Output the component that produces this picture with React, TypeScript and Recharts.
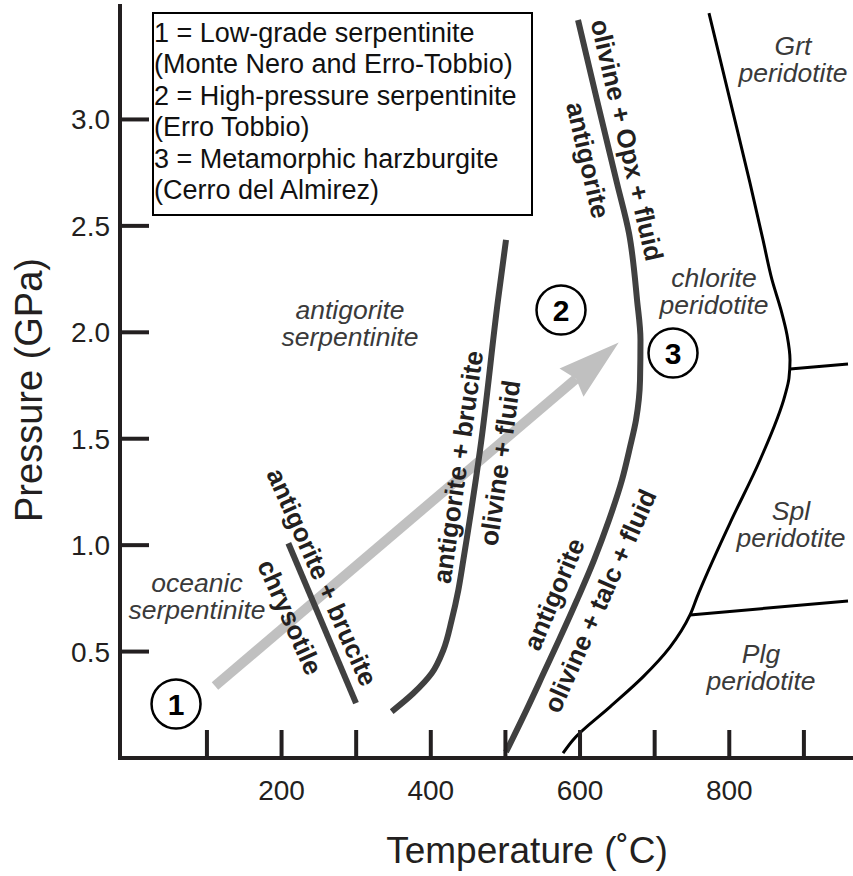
import React from 'react';
import { ComposedChart, Line, Scatter, XAxis, YAxis, Legend } from 'recharts';

const FONT = '"Liberation Sans", Arial, Helvetica, sans-serif';
const INK = '#231f20';
const CURVE = '#404040';
const FIELD_TEXT = '#3a3a3a';
const PATH_GREY = '#c0c0c0';

// Axis ranges and ticks: temperature in °C, pressure in GPa
const temperatureDomain: [number, number] = [-16.5, 965.8];
const pressureDomain: [number, number] = [0, 3.533];
const temperatureTicks = [100, 200, 300, 400, 500, 600, 700, 800, 900];
const pressureTicks = [0.5, 1.0, 1.5, 2.0, 2.5, 3.0];

// antigorite + brucite = chrysotile
const chrysotileReaction = [
  { T: 209.1, P: 1.009 },
  { T: 299.8, P: 0.258 },
];

// antigorite + brucite = olivine + fluid
const bruciteOut = [
  { T: 347.6, P: 0.218 },
  { T: 376.6, P: 0.304 },
  { T: 401.2, P: 0.398 },
  { T: 416.8, P: 0.507 },
  { T: 428.0, P: 0.648 },
  { T: 436.9, P: 0.789 },
  { T: 443.6, P: 0.93 },
  { T: 466.0, P: 1.447 },
  { T: 490.1, P: 2.152 },
  { T: 500.8, P: 2.434 },
];

// antigorite = olivine + talc + fluid (low P) / olivine + Opx + fluid (high P)
const antigoriteOut = [
  { T: 500.8, P: 0.028 },
  { T: 528.3, P: 0.226 },
  { T: 553.1, P: 0.413 },
  { T: 571.8, P: 0.554 },
  { T: 595.9, P: 0.742 },
  { T: 618.7, P: 0.93 },
  { T: 638.8, P: 1.118 },
  { T: 656.2, P: 1.306 },
  { T: 667.0, P: 1.461 },
  { T: 675.0, P: 1.588 },
  { T: 680.4, P: 1.776 },
  { T: 681.0, P: 1.964 },
  { T: 676.4, P: 2.152 },
  { T: 665.6, P: 2.466 },
  { T: 649.5, P: 2.701 },
  { T: 622.7, P: 3.091 },
  { T: 597.3, P: 3.467 },
];

// chlorite peridotite boundary
const chloriteOut = [
  { T: 772.8, P: 3.5 },
  { T: 801.0, P: 3.091 },
  { T: 827.8, P: 2.701 },
  { T: 845.2, P: 2.434 },
  { T: 857.3, P: 2.246 },
  { T: 869.3, P: 2.105 },
  { T: 877.4, P: 1.987 },
  { T: 881.4, P: 1.87 },
  { T: 880.0, P: 1.785 },
  { T: 874.7, P: 1.705 },
  { T: 841.2, P: 1.4 },
  { T: 801.0, P: 1.104 },
  { T: 756.8, P: 0.756 },
  { T: 747.4, P: 0.672 },
  { T: 720.6, P: 0.521 },
  { T: 684.4, P: 0.381 },
  { T: 640.2, P: 0.24 },
  { T: 590.6, P: 0.085 },
  { T: 577.2, P: 0.023 },
];

// garnet / spinel and spinel / plagioclase peridotite transitions
const garnetSpinel = [
  { T: 881.4, P: 1.828 },
  { T: 959.1, P: 1.851 },
];
const spinelPlagioclase = [
  { T: 747.4, P: 0.672 },
  { T: 959.1, P: 0.738 },
];

// prograde path (shaft; head drawn by marker)
const progradePath = [
  { T: 110.8, P: 0.338 },
  { T: 594.7, P: 1.782 },
];

const localities = [
  { id: '1', T: 58.6, P: 0.254, rock: 'Low-grade serpentinite', site: 'Monte Nero and Erro-Tobbio' },
  { id: '2', T: 574.5, P: 2.105, rock: 'High-pressure serpentinite', site: 'Erro Tobbio' },
  { id: '3', T: 724.6, P: 1.903, rock: 'Metamorphic harzburgite', site: 'Cerro del Almirez' },
];

const reactionLabels = [
  { T: 254.2, P: 0.85, text: 'antigorite + brucite', angle: 66 },
  { T: 211.3, P: 0.662, text: 'chrysotile', angle: 66 },
  { T: 436.5, P: 1.367, text: 'antigorite + brucite', angle: -82 },
  { T: 492.8, P: 1.386, text: 'olivine + fluid', angle: -82 },
  { T: 565.1, P: 0.77, text: 'antigorite', angle: -67 },
  { T: 626.8, P: 0.738, text: 'olivine + talc + fluid', angle: -66 },
  { T: 610.7, P: 2.809, text: 'antigorite', angle: 77 },
  { T: 662.9, P: 2.903, text: 'olivine + Opx + fluid', angle: 77 },
];

const fieldLabels = [
  { T: 291.7, P: 2.062, lines: ['antigorite', 'serpentinite'] },
  { T: 86.7, P: 0.78, lines: ['oceanic', 'serpentinite'] },
  { T: 885.4, P: 3.303, lines: ['Grt', 'peridotite'] },
  { T: 779.5, P: 2.213, lines: ['chlorite', 'peridotite'] },
  { T: 882.7, P: 1.118, lines: ['Spl', 'peridotite'] },
  { T: 842.5, P: 0.446, lines: ['Plg', 'peridotite'] },
];

const TemperatureTick = ({ x, y, payload }: any) => (
  <g>
    <line x1={x} x2={x} y1={y} y2={y - 28} stroke={INK} strokeWidth={4} />
    {payload.value % 200 === 0 && (
      <text x={x} y={y + 42} textAnchor="middle" fontFamily={FONT} fontSize={28} fill={INK}>
        {payload.value}
      </text>
    )}
  </g>
);

const PressureTick = ({ x, y, payload }: any) => (
  <g>
    <line x1={x} x2={x + 29} y1={y} y2={y} stroke={INK} strokeWidth={4} />
    <text x={x - 10} y={y + 10} textAnchor="end" fontFamily={FONT} fontSize={28} fill={INK}>
      {Number(payload.value).toFixed(1)}
    </text>
  </g>
);

const TemperatureTitle = ({ viewBox }: any) => (
  <text
    x={viewBox.x + 407}
    y={viewBox.y + 105}
    textAnchor="middle"
    fontFamily={FONT}
    fontSize={37}
    fill={INK}
  >
    Temperature (˚C)
  </text>
);

const PressureTitle = ({ viewBox }: any) => {
  const x = viewBox.x + 22;
  const y = viewBox.y + viewBox.height / 2 + 8;
  return (
    <text
      x={x}
      y={y}
      transform={`rotate(-90 ${x} ${y})`}
      textAnchor="middle"
      fontFamily={FONT}
      fontSize={38}
      fill={INK}
    >
      Pressure (GPa)
    </text>
  );
};

const ReactionLabel = ({ cx, cy, payload }: any) => (
  <text
    x={cx}
    y={cy}
    transform={`rotate(${payload.angle} ${cx} ${cy})`}
    textAnchor="middle"
    dominantBaseline="central"
    fontFamily={FONT}
    fontWeight="bold"
    fontSize={26}
    fill={INK}
  >
    {payload.text}
  </text>
);

const FieldLabel = ({ cx, cy, payload }: any) => (
  <text textAnchor="middle" fontFamily={FONT} fontStyle="italic" fontSize={26.5} fill={FIELD_TEXT}>
    {payload.lines.map((line: string, i: number) => (
      <tspan key={i} x={cx} y={cy + i * 27}>
        {line}
      </tspan>
    ))}
  </text>
);

const LocalityMarker = ({ cx, cy, payload }: any) => (
  <g>
    <circle cx={cx} cy={cy} r={24.5} fill="#fff" stroke="#000" strokeWidth={2.5} />
    <text x={cx} y={cy + 11} textAnchor="middle" fontFamily={FONT} fontWeight="bold" fontSize={30} fill="#000">
      {payload.id}
    </text>
  </g>
);

const LocalityKey = () => (
  <div
    style={{
      boxSizing: 'border-box',
      width: 381,
      height: 204,
      border: '2px solid #000',
      background: '#fff',
      padding: '4px 0 0 0',
      fontFamily: FONT,
      fontSize: 27,
      lineHeight: '31.4px',
      color: '#111',
      whiteSpace: 'nowrap',
    }}
  >
    {localities.map((loc) => (
      <React.Fragment key={loc.id}>
        <div>{`${loc.id} = ${loc.rock}`}</div>
        <div>{`(${loc.site})`}</div>
      </React.Fragment>
    ))}
  </div>
);

export default function App() {
  return (
    <div style={{ position: 'absolute', left: 0, top: 0, width: 853, height: 876, background: '#fff' }}>
      <ComposedChart width={853} height={876} margin={{ top: 6, right: 0, bottom: 0, left: 20 }}>
        <defs>
          <marker
            id="prograde-head"
            markerUnits="userSpaceOnUse"
            markerWidth={80}
            markerHeight={50}
            refX={10}
            refY={25}
            orient="auto"
          >
            <path d="M66,25 L4,6.5 L10,25 L4,43.5 Z" fill={PATH_GREY} />
          </marker>
        </defs>
        <XAxis
          type="number"
          dataKey="T"
          domain={temperatureDomain}
          allowDataOverflow
          ticks={temperatureTicks}
          interval={0}
          height={118}
          tickSize={0}
          tickMargin={0}
          tickLine={false}
          tick={<TemperatureTick />}
          axisLine={{ stroke: INK, strokeWidth: 4, strokeLinecap: 'square' }}
          label={<TemperatureTitle />}
        />
        <XAxis
          xAxisId="top"
          orientation="top"
          type="number"
          domain={temperatureDomain}
          allowDataOverflow
          height={0}
          tick={false}
          tickLine={false}
          axisLine={{ stroke: INK, strokeWidth: 4, strokeLinecap: 'square' }}
        />
        <YAxis
          type="number"
          dataKey="P"
          domain={pressureDomain}
          allowDataOverflow
          ticks={pressureTicks}
          interval={0}
          width={100}
          tickSize={0}
          tickMargin={0}
          tickLine={false}
          tick={<PressureTick />}
          axisLine={{ stroke: INK, strokeWidth: 4, strokeLinecap: 'square' }}
          label={<PressureTitle />}
        />
        <Legend
          layout="horizontal"
          verticalAlign="middle"
          align="center"
          wrapperStyle={{ left: 152, top: 12, width: 381, height: 204 }}
          content={() => <LocalityKey />}
        />

        <Line
          data={progradePath}
          dataKey="P"
          type="linear"
          stroke={PATH_GREY}
          strokeWidth={10}
          dot={false}
          activeDot={false}
          markerEnd="url(#prograde-head)"
          isAnimationActive={false}
          legendType="none"
        />
        <Line data={chrysotileReaction} dataKey="P" type="linear" stroke={CURVE} strokeWidth={6} dot={false} activeDot={false} isAnimationActive={false} legendType="none" />
        <Line data={bruciteOut} dataKey="P" type="monotoneY" stroke={CURVE} strokeWidth={6} dot={false} activeDot={false} isAnimationActive={false} legendType="none" />
        <Line data={antigoriteOut} dataKey="P" type="monotoneY" stroke={CURVE} strokeWidth={6} dot={false} activeDot={false} isAnimationActive={false} legendType="none" />
        <Line data={chloriteOut} dataKey="P" type="monotoneY" stroke="#000" strokeWidth={3} dot={false} activeDot={false} isAnimationActive={false} legendType="none" />
        <Line data={garnetSpinel} dataKey="P" type="linear" stroke="#000" strokeWidth={3} dot={false} activeDot={false} isAnimationActive={false} legendType="none" />
        <Line data={spinelPlagioclase} dataKey="P" type="linear" stroke="#000" strokeWidth={3} dot={false} activeDot={false} isAnimationActive={false} legendType="none" />

        <Scatter data={fieldLabels} dataKey="P" shape={(p: any) => <FieldLabel {...p} />} isAnimationActive={false} legendType="none" />
        <Scatter data={reactionLabels} dataKey="P" shape={(p: any) => <ReactionLabel {...p} />} isAnimationActive={false} legendType="none" />
        <Scatter data={localities} dataKey="P" shape={(p: any) => <LocalityMarker {...p} />} isAnimationActive={false} legendType="none" />
      </ComposedChart>
    </div>
  );
}
